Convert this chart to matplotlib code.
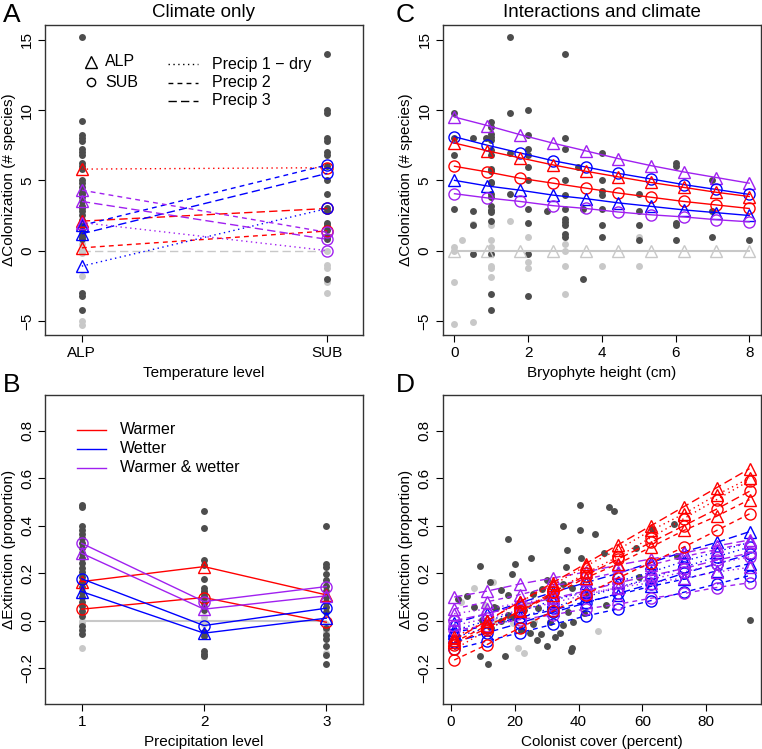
import matplotlib
matplotlib.use('Agg')
import matplotlib.pyplot as plt
import numpy as np

plt.rcParams['font.family'] = ['Liberation Sans', 'DejaVu Sans']
plt.rcParams['font.size'] = 11

RED = '#FF0000'
BLUE = '#0000FF'
PURPLE = '#A020F0'
DARK = '#4D4D4D'
LIGHT = '#C8C8C8'

# ---------------- Panel A data ----------------
temp_levels = ['ALP', 'SUB']
a_dark_alp = [15.2, 9.2, 8.2, 8.0, 7.8, 7.2, 7.0, 6.8, 6.2, 6.0, 5.8, 5.0, 4.8, 4.5, 4.2,
              4.0, 3.8, 3.5, 3.2, 3.0, 2.8, 2.5, 2.2, 2.0, 1.8, 1.5, 1.2, 1.0, 0.8,
              -3.0, -3.2, -4.2]
a_light_alp = [0.5, 0.0, -0.2, -1.8, -5.0, -5.3]
a_dark_sub = [14.0, 10.0, 9.8, 8.0, 7.8, 7.0, 6.8, 6.0, 5.0, 4.0, 3.0, 2.8, 2.0, 1.8,
              1.5, 1.0, 0.8, -2.0]
a_light_sub = [0.0, -1.0, -1.2, -2.2, -3.0]
# [ALP, SUB] for precip 1, 2, 3
a_warmer = [[5.8, 5.9], [0.2, 1.4], [2.1, 3.0]]
a_wetter = [[-1.1, 3.0], [1.8, 6.1], [1.2, 5.5]]
a_both = [[2.0, 0.0], [4.3, 1.3], [3.5, 0.8]]
a_control = [0.0, 0.0]

# ---------------- Panel B data ----------------
precip_levels = [1, 2, 3]
b_dark = {
    1: [0.488, 0.48, 0.40, 0.38, 0.364, 0.347, 0.326, 0.305, 0.284, 0.266, 0.245, 0.224,
        0.207, 0.186, 0.165, 0.144, 0.123, 0.102, 0.081, 0.063, 0.042, 0.022, -0.02,
        -0.038, -0.056],
    2: [0.462, 0.39, 0.256, 0.233, 0.175, 0.137, 0.126, 0.116, 0.105, 0.095, 0.074,
        0.06, 0.046, -0.045, -0.066, -0.129, -0.14, -0.15],
    3: [0.40, 0.238, 0.228, 0.196, 0.17, 0.147, 0.126, 0.102, 0.081, 0.06, 0.036,
        -0.03, -0.059, -0.076, -0.108, -0.143, -0.182],
}
b_light = {
    1: [0.0, -0.01, -0.115],
    2: [0.018, 0.0, -0.014],
    3: [-0.014, -0.038, -0.052, -0.136],
}
b_warmer_alp = [0.165, 0.228, 0.109]
b_warmer_sub = [0.049, 0.098, -0.006]
b_wetter_alp = [0.123, -0.052, 0.011]
b_wetter_sub = [0.177, -0.02, 0.053]
b_both_alp = [0.284, 0.049, 0.105]
b_both_sub = [0.326, 0.081, 0.144]
b_control = [0.0, 0.0, 0.0]

# ---------------- Panel C data ----------------
c_dark_x = [0, 0, 0, 0, 0.5, 0.5, 0.5, 0.5, 0.86,
            1, 1, 1, 1, 1, 1, 1, 1, 1, 1, 1, 1, 1, 1, 1, 1, 1, 1, 1, 1,
            1.5, 1.5, 1.5, 1.5,
            2, 2, 2, 2, 2, 2, 2, 2, 2, 2, 2.5,
            3, 3, 3, 3, 3, 3, 3, 3, 3, 3, 3, 3.35, 3.5, 3.5,
            4, 4, 4, 4, 4, 4, 4, 5, 5, 5, 5, 6, 6, 6, 6, 6, 7, 7, 7, 8]
c_dark_y = [9.76, 7.98, 6.8, 2.98, 7.98, 2.8, 1.8, -0.24, 7.98,
            9.17, 8.8, 8.33, 8.1, 7.86, 7.14, 6.8, 5.83, 5.7, 4.9, 4.8, 4.05, 3.8, 3.2,
            2.9, 2.75, 2.14, -0.24, -3.05, -4.24,
            15.2, 9.76, 6.95, 4.0,
            10.0, 8.2, 7.2, 6.8, 5.95, 5.0, 2.98, 1.95, -0.24, -3.26, 2.8,
            13.98, 7.98, 7.2, 5.0, 3.98, 2.98, 2.26, 2.02, 1.79, 1.19, 0.95, 5.95, 2.98, -2.05,
            6.98, 5.0, 4.21, 3.98, 2.98, 1.79, 0.95, 4.0, 2.8, 1.8, 0.76,
            6.24, 6.0, 2.0, 1.8, 0.76, 5.0, 2.8, 0.95, 0.76]
c_light_x = [0, 0, 0, 0, 0.2, 0.5, 0.5, 1, 1, 1, 1, 1, 1, 1.5, 2, 2, 2,
             3, 3, 3, 3, 4, 5, 5]
c_light_y = [0.24, 0.0, -2.26, -5.24, 0.76, 1.9, -5.05, 1.8, 0.76, 0.24, -1.07, -1.2,
             -1.86, 2.14, 0.95, -0.83, -1.2, 0.48, 0.0, -1.07, -3.05, -1.07, 0.95, -1.07]
height_levels = [0, 0.89, 1.78, 2.67, 3.56, 4.44, 5.33, 6.22, 7.11, 8]
c_both_alp = [9.5, 8.9, 8.25, 7.65, 7.1, 6.55, 6.05, 5.6, 5.2, 4.8]
c_wetter_sub = [8.1, 7.5, 6.95, 6.4, 5.95, 5.5, 5.1, 4.7, 4.35, 4.0]
c_warmer_alp = [7.65, 7.1, 6.6, 6.1, 5.65, 5.25, 4.85, 4.5, 4.15, 3.85]
c_warmer_sub = [6.0, 5.6, 5.15, 4.8, 4.45, 4.1, 3.8, 3.5, 3.25, 3.0]
c_wetter_alp = [5.0, 4.6, 4.3, 3.95, 3.7, 3.4, 3.15, 2.9, 2.7, 2.5]
c_both_sub = [4.05, 3.75, 3.5, 3.2, 3.0, 2.75, 2.55, 2.4, 2.2, 2.05]
c_control = [0, 0, 0, 0, 0, 0, 0, 0, 0, 0]

# ---------------- Panel D data ----------------
d_dark_x = [40.3, 49.5, 51.0, 35.0, 40.3, 45.0, 18.0, 36.5, 58.0, 69.9, 71.0, 63.0,
            25.1, 40.8, 47.9, 9.0, 20.1, 36.1, 19.0, 30.0, 59.1, 12.1, 35.0, 28.6,
            15.7, 37.9, 5.0, 2.3, 18.0, 25.6, 30.3, 42.9, 48.6, 7.3, 14.1, 23.0,
            27.2, 31.9, 36.6, 9.6, 15.7, 19.3, 25.6, 35.0, 38.2, 22.0, 28.3, 32.6,
            34.2, 27.0, 24.8, 30.0, 37.9, 37.6, 17.0, 9.0, 11.7, 93.6, 12.5, 13.6,
            20.9, 17.8, 30.9, 41.8]
d_dark_y = [0.488, 0.478, 0.462, 0.40, 0.38, 0.364, 0.345, 0.30, 0.305, 0.406, 0.273,
            0.387, 0.263, 0.263, 0.284, 0.231, 0.238, 0.228, 0.196, 0.172, 0.186, 0.163,
            0.155, 0.134, 0.13, 0.137, 0.106, 0.092, 0.109, 0.112, 0.098, 0.112, 0.067,
            0.056, 0.053, 0.046, 0.053, 0.053, 0.035, 0.004, 0.0, 0.014, -0.014, -0.017,
            -0.003, -0.038, -0.056, -0.07, -0.052, -0.08, -0.052, -0.108, -0.115,
            -0.129, -0.146, -0.146, -0.182, 0.004, -0.031, 0.06, 0.06, 0.025, -0.003,
            0.032]
d_light_x = [7.1, 13.1, 10.7, 13.6, 24.0, 20.9, 23.0, 46.0, 3.1, 19.3, 26.1]
d_light_y = [0.137, 0.165, 0.067, 0.0, 0.067, -0.115, -0.136, -0.042, 0.081, -0.01, 0.0]
cover_levels = [1, 11.3, 21.6, 31.9, 42.2, 52.4, 62.7, 73.0, 83.3, 93.6]
d_warmer_alp_p1 = [-0.07, 0.00, 0.08, 0.15, 0.23, 0.30, 0.38, 0.45, 0.53, 0.60]
d_warmer_alp_p2 = [-0.09, -0.02, 0.04, 0.11, 0.18, 0.24, 0.31, 0.38, 0.44, 0.51]
d_warmer_alp_p3 = [-0.08, 0.00, 0.08, 0.16, 0.24, 0.32, 0.40, 0.48, 0.56, 0.64]
d_warmer_sub_p1 = [-0.12, -0.04, 0.04, 0.12, 0.20, 0.27, 0.35, 0.43, 0.51, 0.59]
d_warmer_sub_p2 = [-0.165, -0.10, -0.03, 0.04, 0.11, 0.18, 0.245, 0.31, 0.38, 0.45]
d_warmer_sub_p3 = [-0.10, -0.03, 0.04, 0.12, 0.19, 0.26, 0.33, 0.40, 0.47, 0.545]
d_wetter_alp_p1 = [-0.04, 0.00, 0.04, 0.085, 0.125, 0.165, 0.205, 0.25, 0.29, 0.33]
d_wetter_alp_p2 = [-0.05, -0.02, 0.015, 0.045, 0.08, 0.11, 0.145, 0.175, 0.21, 0.24]
d_wetter_alp_p3 = [-0.01, 0.03, 0.075, 0.12, 0.16, 0.20, 0.245, 0.29, 0.33, 0.375]
d_wetter_sub_p1 = [-0.07, -0.03, 0.015, 0.055, 0.10, 0.14, 0.18, 0.225, 0.27, 0.31]
d_wetter_sub_p2 = [-0.12, -0.085, -0.05, -0.015, 0.02, 0.05, 0.085, 0.12, 0.155, 0.19]
d_wetter_sub_p3 = [-0.09, -0.05, -0.01, 0.035, 0.075, 0.115, 0.155, 0.20, 0.24, 0.28]
d_both_alp_p1 = [0.03, 0.05, 0.075, 0.095, 0.115, 0.14, 0.16, 0.18, 0.205, 0.225]
d_both_alp_p2 = [0.05, 0.08, 0.11, 0.145, 0.175, 0.205, 0.235, 0.27, 0.30, 0.33]
d_both_alp_p3 = [0.10, 0.125, 0.155, 0.18, 0.205, 0.235, 0.26, 0.285, 0.315, 0.34]
d_both_sub_p1 = [-0.02, 0.01, 0.045, 0.075, 0.11, 0.14, 0.175, 0.205, 0.24, 0.27]
d_both_sub_p2 = [-0.04, -0.02, 0.005, 0.025, 0.05, 0.07, 0.095, 0.115, 0.14, 0.16]
d_both_sub_p3 = [0.00, 0.03, 0.065, 0.095, 0.125, 0.16, 0.19, 0.22, 0.255, 0.285]

LS = {1: (0, (1, 2.5)), 2: (0, (3.5, 3)), 3: (0, (6, 3))}
TRI = dict(marker='^', markersize=9, fillstyle='none', markeredgewidth=1.0)
CIR = dict(marker='o', markersize=8, fillstyle='none', markeredgewidth=1.0)
PT = dict(marker='o', markersize=5, linestyle='none', markeredgewidth=0)

W, H = 762, 749
fig = plt.figure(figsize=(W / 100, H / 100), dpi=100)


def axes_px(l, r, t, b):
    return fig.add_axes([l / W, 1 - b / H, (r - l) / W, (b - t) / H])


axA = axes_px(45, 363, 25, 335)
axC = axes_px(442.7, 761, 25, 335)
axB = axes_px(45, 363, 395, 704)
axD = axes_px(442.7, 761, 395, 704)

for ax in (axA, axB, axC, axD):
    ax.tick_params(direction='out', length=5, width=0.8, pad=3, labelsize=11)
    for s in ax.spines.values():
        s.set_linewidth(1.0)
        s.set_color('#333333')


def ylab(ax, text):
    ax.set_ylabel(text)
    ax.yaxis.set_label_coords(-0.092, 0.5)


# ---------- Panel A ----------
ax = axA
ax.plot([1] * len(a_light_alp), a_light_alp, color=LIGHT, **PT)
ax.plot([2] * len(a_light_sub), a_light_sub, color=LIGHT, **PT)
ax.plot([1] * len(a_dark_alp), a_dark_alp, color=DARK, **PT)
ax.plot([2] * len(a_dark_sub), a_dark_sub, color=DARK, **PT)
ax.plot([1, 2], a_control, color=LIGHT, linestyle=LS[3], lw=1)
for col, series in ((RED, a_warmer), (BLUE, a_wetter), (PURPLE, a_both)):
    for p, vals in zip(precip_levels, series):
        ax.plot([1, 2], vals, color=col, linestyle=LS[p], lw=1)
        ax.plot([1], vals[:1], color=col, linestyle='none', **TRI)
        ax.plot([2], vals[1:], color=col, linestyle='none', **CIR)
ax.set_xlim(0.85, 2.145)
ax.set_ylim(-6.0, 16.05)
ax.set_xticks([1, 2])
ax.set_xticklabels(temp_levels)
ax.set_yticks([-5, 0, 5, 10, 15])
ax.set_yticklabels(['−5', '0', '5', '10', '15'], rotation=90, va='center')
ax.set_xlabel('Temperature level', labelpad=4)
ylab(ax, 'ΔColonization (# species)')
ax.set_title('Climate only', fontsize=13.5, pad=6)
# legend A
ax.plot([0.144], [0.881], transform=ax.transAxes, color='black', linestyle='none', **{**TRI, 'markersize': 8})
ax.plot([0.144], [0.816], transform=ax.transAxes, color='black', linestyle='none', **{**CIR, 'markersize': 6})
ax.text(0.189, 0.881, 'ALP', transform=ax.transAxes, va='center', fontsize=11.5)
ax.text(0.189, 0.816, 'SUB', transform=ax.transAxes, va='center', fontsize=11.5)
for i, (p, lab) in enumerate(zip(precip_levels, ['Precip 1 − dry', 'Precip 2', 'Precip 3'])):
    yy = 0.874 - i * 0.0595
    ax.plot([0.387, 0.481], [yy, yy], transform=ax.transAxes, color='black', linestyle=LS[p], lw=1)
    ax.text(0.525, yy, lab, transform=ax.transAxes, va='center', fontsize=11.5)

# ---------- Panel B ----------
ax = axB
for p in precip_levels:
    ax.plot([p] * len(b_light[p]), b_light[p], color=LIGHT, **PT)
    ax.plot([p] * len(b_dark[p]), b_dark[p], color=DARK, **PT)
ax.plot(precip_levels, b_control, color=LIGHT, lw=1.5)
for col, alp, sub in ((RED, b_warmer_alp, b_warmer_sub), (BLUE, b_wetter_alp, b_wetter_sub),
                      (PURPLE, b_both_alp, b_both_sub)):
    ax.plot(precip_levels, alp, color=col, lw=1, **TRI)
    ax.plot(precip_levels, sub, color=col, lw=1, **CIR)
ax.set_xlim(0.7, 3.3)
ax.set_ylim(-0.35, 0.95)
ax.set_xticks(precip_levels)
ax.set_yticks([-0.2, 0.0, 0.2, 0.4, 0.6, 0.8])
ax.set_yticklabels(['−0.2', '0.0', '0.2', '0.4', '0.6', '0.8'], rotation=90, va='center')
ax.set_xlabel('Precipitation level', labelpad=4)
ylab(ax, 'ΔExtinction (proportion)')
for i, (col, lab) in enumerate(((RED, 'Warmer'), (BLUE, 'Wetter'), (PURPLE, 'Warmer & wetter'))):
    yy = 0.887 - i * 0.0615
    ax.plot([0.10, 0.192], [yy, yy], transform=ax.transAxes, color=col, lw=1)
    ax.text(0.236, yy, lab, transform=ax.transAxes, va='center', fontsize=11.5)

# ---------- Panel C ----------
ax = axC
ax.plot(c_light_x, c_light_y, color=LIGHT, **PT)
ax.plot(c_dark_x, c_dark_y, color=DARK, **PT)
ax.plot(height_levels, c_control, color=LIGHT, lw=1.5, **TRI)
for col, vals, m in ((PURPLE, c_both_alp, TRI), (BLUE, c_wetter_sub, CIR), (RED, c_warmer_alp, TRI),
                     (RED, c_warmer_sub, CIR), (BLUE, c_wetter_alp, TRI), (PURPLE, c_both_sub, CIR)):
    ax.plot(height_levels, vals, color=col, lw=1, **m)
ax.set_xlim(-0.32, 8.32)
ax.set_ylim(-6.0, 16.05)
ax.set_xticks([0, 2, 4, 6, 8])
ax.set_yticks([-5, 0, 5, 10, 15])
ax.set_yticklabels(['−5', '0', '5', '10', '15'], rotation=90, va='center')
ax.set_xlabel('Bryophyte height (cm)', labelpad=4)
ylab(ax, 'ΔColonization (# species)')
ax.set_title('Interactions and climate', fontsize=13.5, pad=6)

# ---------- Panel D ----------
ax = axD
ax.plot(d_light_x, d_light_y, color=LIGHT, **PT)
ax.plot(d_dark_x, d_dark_y, color=DARK, **PT)
d_series = [
    (BLUE, TRI, 1, d_wetter_alp_p1), (BLUE, TRI, 2, d_wetter_alp_p2), (BLUE, TRI, 3, d_wetter_alp_p3),
    (BLUE, CIR, 1, d_wetter_sub_p1), (BLUE, CIR, 2, d_wetter_sub_p2), (BLUE, CIR, 3, d_wetter_sub_p3),
    (PURPLE, TRI, 1, d_both_alp_p1), (PURPLE, TRI, 2, d_both_alp_p2), (PURPLE, TRI, 3, d_both_alp_p3),
    (PURPLE, CIR, 1, d_both_sub_p1), (PURPLE, CIR, 2, d_both_sub_p2), (PURPLE, CIR, 3, d_both_sub_p3),
    (RED, TRI, 1, d_warmer_alp_p1), (RED, TRI, 2, d_warmer_alp_p2), (RED, TRI, 3, d_warmer_alp_p3),
    (RED, CIR, 1, d_warmer_sub_p1), (RED, CIR, 2, d_warmer_sub_p2), (RED, CIR, 3, d_warmer_sub_p3),
]
for col, m, p, vals in d_series:
    ax.plot(cover_levels, vals, color=col, lw=1, linestyle=LS[p], **m)
ax.set_xlim(-2.6, 97.2)
ax.set_ylim(-0.35, 0.95)
ax.set_xticks([0, 20, 40, 60, 80])
ax.set_yticks([-0.2, 0.0, 0.2, 0.4, 0.6, 0.8])
ax.set_yticklabels(['−0.2', '0.0', '0.2', '0.4', '0.6', '0.8'], rotation=90, va='center')
ax.set_xlabel('Colonist cover (percent)', labelpad=4)
ylab(ax, 'ΔExtinction (proportion)')

# panel letters
for lab, x, y in (('A', 3, 15), ('C', 396, 15), ('B', 3, 385), ('D', 396, 385)):
    fig.text(x / W, 1 - y / H, lab, fontsize=19, va='center', ha='left')

fig.savefig('out.png', dpi=100)
